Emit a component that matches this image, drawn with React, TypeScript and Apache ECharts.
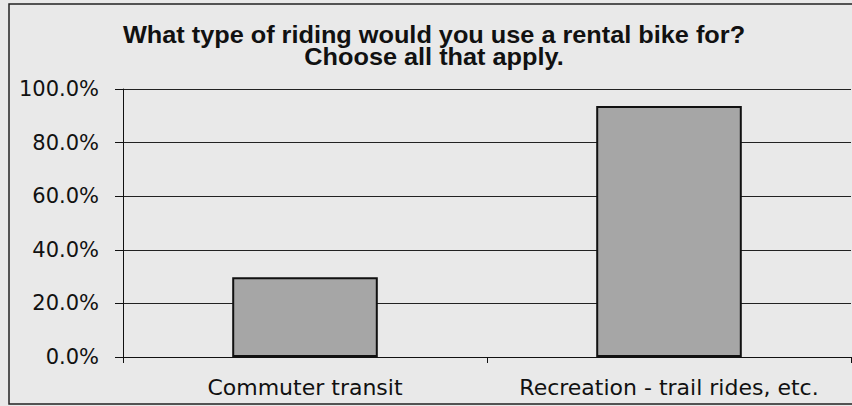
import React, { useEffect, useRef } from "react";
import * as echarts from "echarts";

const titleLines = ["What type of riding would you use a rental bike for?", "Choose all that apply."];
const categories = ["Commuter transit", "Recreation - trail rides, etc."];
const values = [29.8, 93.7];
const yTicks = { min: 0, max: 100, interval: 20 };

export default function App() {
  const ref = useRef<HTMLDivElement>(null);
  useEffect(() => {
    if (!ref.current) return;
    const chart = echarts.init(ref.current, undefined, { renderer: "svg" });
    chart.setOption({
      animation: false,
      backgroundColor: "#e9e9e9",
      graphic: [
        {
          type: "rect",
          z: 100,
          silent: true,
          shape: { x: 9, y: 4, width: 860, height: 400 },
          style: { fill: "none", stroke: "#222", lineWidth: 1.5 },
        },
        {
          type: "text",
          x: 434,
          y: 45.5,
          scaleX: 1.1,
          style: {
            text: titleLines.join("\n"),
            textAlign: "center",
            textVerticalAlign: "middle",
            lineHeight: 22,
            font: "bold 23px 'Liberation Sans', Arial, sans-serif",
            fill: "#111",
          },
        },
      ],
      grid: { left: 123, right: 1, top: 89, bottom: 49, containLabel: false },
      xAxis: {
        type: "category",
        data: categories,
        axisLine: { lineStyle: { color: "#111", width: 1 } },
        axisTick: { show: true, length: 6, lineStyle: { color: "#111" } },
        axisLabel: {
          interval: 0,
          margin: 19,
          color: "#111",
          fontSize: 22,
          fontFamily: "'DejaVu Sans', sans-serif",
        },
      },
      yAxis: {
        type: "value",
        min: yTicks.min,
        max: yTicks.max,
        interval: yTicks.interval,
        axisLine: { show: true, lineStyle: { color: "#111", width: 1 } },
        axisTick: { show: true, length: 8, lineStyle: { color: "#111" } },
        splitLine: { show: true, lineStyle: { color: "#222", width: 1 } },
        axisLabel: {
          margin: 24,
          color: "#111",
          fontSize: 21,
          fontFamily: "'DejaVu Sans', sans-serif",
          formatter: (v: number) => v.toFixed(1) + "%",
        },
      },
      series: [
        {
          type: "bar",
          data: values,
          barWidth: "40%",
          itemStyle: { color: "#a6a6a6", borderColor: "#111", borderWidth: 2 },
        },
      ],
    });
    return () => chart.dispose();
  }, []);
  return (
    <div
      ref={ref}
      style={{ position: "fixed", left: 0, top: 0, width: 852, height: 406 }}
    />
  );
}
